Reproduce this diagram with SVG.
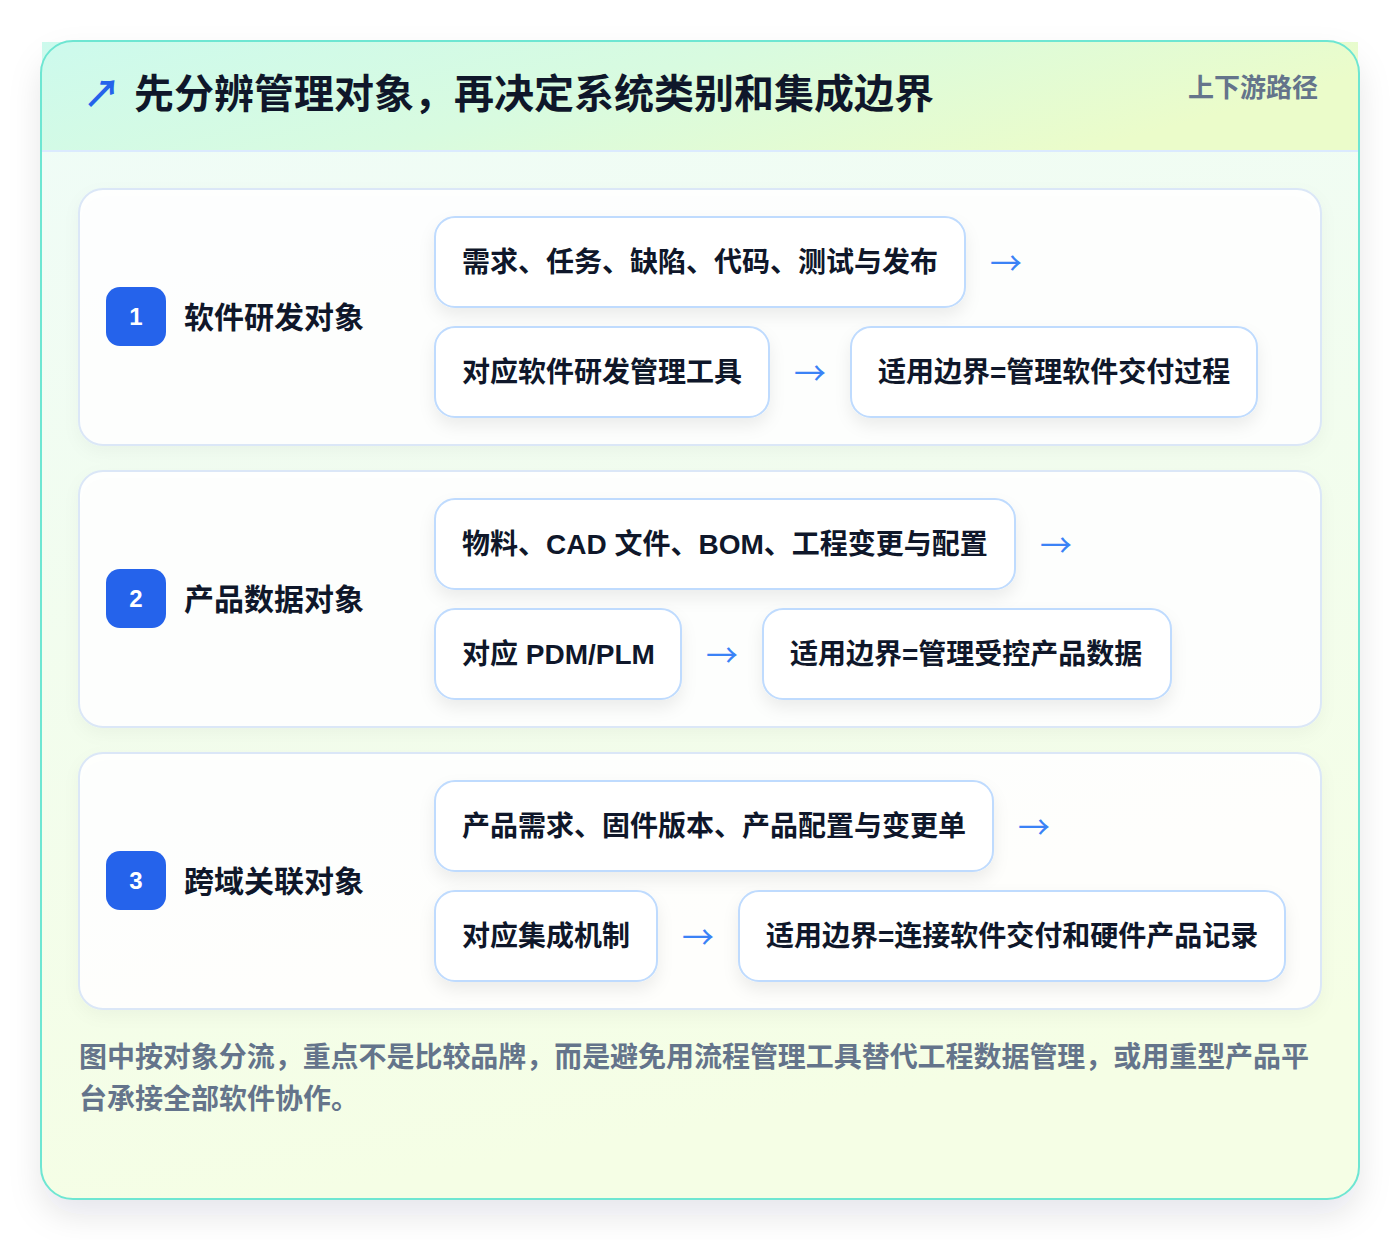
<svg xmlns="http://www.w3.org/2000/svg" width="1400" height="1240" viewBox="0 0 1400 1240">
<defs>
<linearGradient id="hdr" x1="0" y1="0" x2="1" y2="0.3">
<stop offset="0" stop-color="#cdfaed"/>
<stop offset="0.5" stop-color="#d8fbe0"/>
<stop offset="1" stop-color="#ebfcca"/>
</linearGradient>
<linearGradient id="body" x1="0" y1="0" x2="0.2" y2="1">
<stop offset="0" stop-color="#effcf8"/>
<stop offset="1" stop-color="#f5fee5"/>
</linearGradient>
<filter id="cardShadow" x="-10%" y="-10%" width="120%" height="125%">
<feDropShadow dx="0" dy="16" stdDeviation="16" flood-color="#0f172a" flood-opacity="0.10"/>
</filter>
<filter id="rowShadow" x="-5%" y="-10%" width="110%" height="130%">
<feDropShadow dx="0" dy="6" stdDeviation="8" flood-color="#0f172a" flood-opacity="0.04"/>
</filter>
<filter id="pillShadow" x="-10%" y="-20%" width="120%" height="160%">
<feDropShadow dx="0" dy="8" stdDeviation="8" flood-color="#0f172a" flood-opacity="0.07"/>
</filter>
<style>
.t{font-family:"Liberation Sans","Noto Sans CJK SC",sans-serif;}
.title{font-size:40px;font-weight:700;fill:#0f172a;}
.tag{font-size:26px;font-weight:700;fill:#64748b;}
.row{fill:#ffffff;fill-opacity:0.9;stroke:#dbe7f7;stroke-width:2;}
.pill{fill:#ffffff;stroke:#bfdbfe;stroke-width:2;}
.ptxt{font-size:28px;font-weight:700;fill:#0f172a;}
.lbl{font-size:30px;font-weight:700;fill:#0f172a;}
.badge{fill:#2563eb;}
.num{font-size:24px;font-weight:700;fill:#ffffff;text-anchor:middle;}
.arr{font-size:32px;fill:#3b82f6;text-anchor:middle;font-family:"Noto Sans CJK SC",sans-serif;}
.foot{font-size:28px;font-weight:700;fill:#64748b;}
</style>
</defs>
<rect width="1400" height="1240" fill="#ffffff"/>
<g id="card">
<rect x="41" y="41" width="1318" height="1158" rx="32" fill="url(#body)" filter="url(#cardShadow)"/>
<rect x="42" y="42" width="1316" height="110" fill="url(#hdr)"/>
<line x1="42" y1="151" x2="1358" y2="151" stroke="#dbeafe" stroke-width="2"/>
<rect x="41" y="41" width="1318" height="1158" rx="32" fill="none" stroke="#6ee6d2" stroke-width="2"/>
</g>
<g id="header">
<text class="t" x="83" y="107" font-size="38" font-weight="700" fill="#2563eb" font-family="DejaVu Sans,sans-serif">↗</text>
<text class="t title" x="134" y="108">先分辨管理对象，再决定系统类别和集成边界</text>
<text class="t tag" x="1318" y="97" text-anchor="end">上下游路径</text>
</g>
<g id="row1">
<rect class="row" x="79" y="189" width="1242" height="256" rx="24" filter="url(#rowShadow)"/>
<rect class="badge" x="106" y="287" width="60" height="59" rx="14"/>
<text class="t num" x="136" y="325">1</text>
<text class="t lbl" x="184" y="328">软件研发对象</text>
</g>
<g id="row1-objects">
<rect class="pill" x="435" y="217" width="530" height="90" rx="20" filter="url(#pillShadow)"/>
<text class="t ptxt" x="462" y="272">需求、任务、缺陷、代码、测试与发布</text>
</g>
<g id="row1-tool">
<rect class="pill" x="435" y="327" width="334" height="90" rx="20" filter="url(#pillShadow)"/>
<text class="t ptxt" x="462" y="382">对应软件研发管理工具</text>
</g>
<g id="row1-boundary">
<rect class="pill" x="851" y="327" width="406" height="90" rx="20" filter="url(#pillShadow)"/>
<text class="t ptxt" x="878" y="382">适用边界=管理软件交付过程</text>
</g>
<g id="row2">
<rect class="row" x="79" y="471" width="1242" height="256" rx="24" filter="url(#rowShadow)"/>
<rect class="badge" x="106" y="569" width="60" height="59" rx="14"/>
<text class="t num" x="136" y="607">2</text>
<text class="t lbl" x="184" y="610">产品数据对象</text>
</g>
<g id="row2-objects">
<rect class="pill" x="435" y="499" width="580" height="90" rx="20" filter="url(#pillShadow)"/>
<text class="t ptxt" x="462" y="554">物料、CAD 文件、BOM、工程变更与配置</text>
</g>
<g id="row2-tool">
<rect class="pill" x="435" y="609" width="246" height="90" rx="20" filter="url(#pillShadow)"/>
<text class="t ptxt" x="462" y="664">对应 PDM/PLM</text>
</g>
<g id="row2-boundary">
<rect class="pill" x="763" y="609" width="408" height="90" rx="20" filter="url(#pillShadow)"/>
<text class="t ptxt" x="790" y="664">适用边界=管理受控产品数据</text>
</g>
<g id="row3">
<rect class="row" x="79" y="753" width="1242" height="256" rx="24" filter="url(#rowShadow)"/>
<rect class="badge" x="106" y="851" width="60" height="59" rx="14"/>
<text class="t num" x="136" y="889">3</text>
<text class="t lbl" x="184" y="892">跨域关联对象</text>
</g>
<g id="row3-objects">
<rect class="pill" x="435" y="781" width="558" height="90" rx="20" filter="url(#pillShadow)"/>
<text class="t ptxt" x="462" y="836">产品需求、固件版本、产品配置与变更单</text>
</g>
<g id="row3-tool">
<rect class="pill" x="435" y="891" width="222" height="90" rx="20" filter="url(#pillShadow)"/>
<text class="t ptxt" x="462" y="946">对应集成机制</text>
</g>
<g id="row3-boundary">
<rect class="pill" x="739" y="891" width="546" height="90" rx="20" filter="url(#pillShadow)"/>
<text class="t ptxt" x="766" y="946">适用边界=连接软件交付和硬件产品记录</text>
</g>
<g id="connectors">
<text class="arr" x="1006" y="275">→</text>
<text class="arr" x="810" y="385">→</text>
<text class="arr" x="1056" y="557">→</text>
<text class="arr" x="722" y="667">→</text>
<text class="arr" x="1034" y="839">→</text>
<text class="arr" x="698" y="949">→</text>
</g>
<g id="footer">
<text class="t foot" x="79" y="1067" textLength="1230" lengthAdjust="spacing">图中按对象分流，重点不是比较品牌，而是避免用流程管理工具替代工程数据管理，或用重型产品平</text>
<text class="t foot" x="79" y="1109">台承接全部软件协作。</text>
</g>
</svg>
